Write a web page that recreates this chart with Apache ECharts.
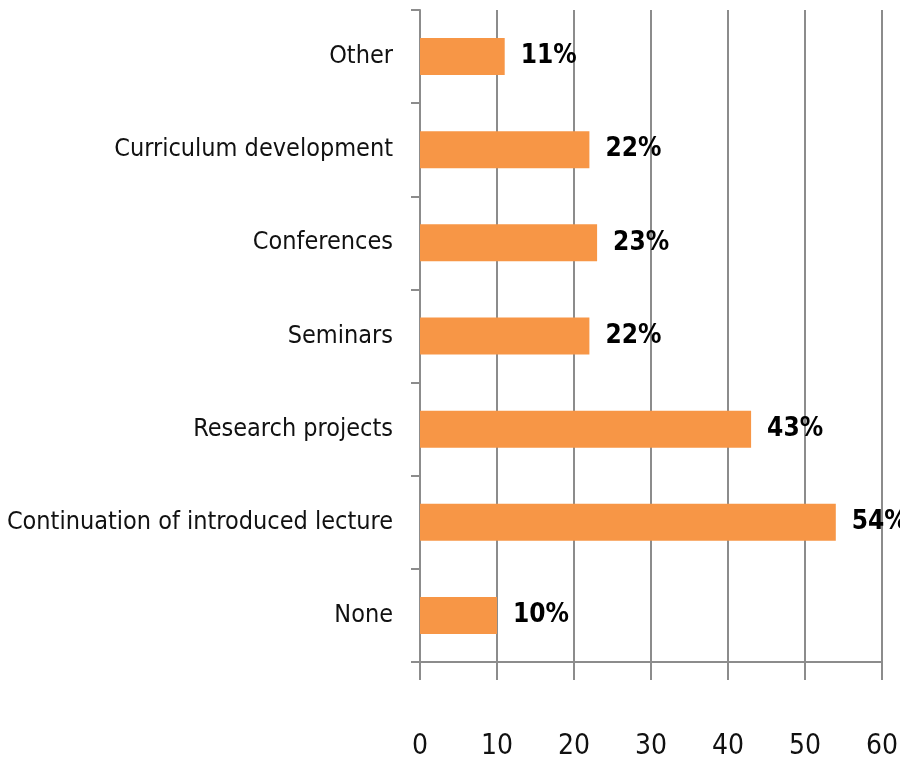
<!DOCTYPE html>
<html>
<head>
<meta charset="utf-8">
<script src="https://cdn.jsdelivr.net/npm/echarts@6/dist/echarts.min.js"></script>
<style>
  body { margin: 0; background: #fff; }
  #myChart { width: 900px; height: 765px; }
</style>
</head>
<body>
<div id="myChart"></div>
<script>
  // categories bottom to top, as ECharts draws a category y axis
  var categories = ['None', 'Continuation of introduced lecture', 'Research projects', 'Seminars', 'Conferences', 'Curriculum development', 'Other'];
  var percents = [10, 54, 43, 22, 23, 22, 11];
  var xTicks = [0, 10, 20, 30, 40, 50, 60];

  var font = "'Liberation Sans Narrow', 'DejaVu Sans Condensed', sans-serif";
  var myChart = echarts.init(document.getElementById('myChart'));
  myChart.setOption({
    animation: false,
    grid: {
      left: 420,
      right: 18,
      top: 10,
      bottom: 103,
      containLabel: false,
      outerBoundsMode: 'none'
    },
    xAxis: {
      type: 'value',
      min: xTicks[0],
      max: xTicks[xTicks.length - 1],
      interval: 10,
      axisLine: {
        show: true,
        lineStyle: { color: '#8c8c8c', width: 2 }
      },
      axisTick: {
        show: true,
        length: 18,
        lineStyle: { color: '#8c8c8c', width: 2 }
      },
      splitLine: {
        show: true,
        lineStyle: { color: '#8c8c8c', width: 2 }
      },
      axisLabel: {
        margin: 71,
        color: '#111',
        fontFamily: font,
        fontSize: 28
      }
    },
    yAxis: {
      type: 'category',
      data: categories,
      axisLine: {
        show: true,
        lineStyle: { color: '#8c8c8c', width: 2 }
      },
      axisTick: {
        show: true,
        length: 9,
        lineStyle: { color: '#8c8c8c', width: 2 }
      },
      axisLabel: {
        margin: 27,
        color: '#111',
        fontFamily: font,
        fontSize: 25
      }
    },
    series: [
      {
        type: 'bar',
        data: percents,
        barWidth: 37,
        itemStyle: { color: '#f79646' },
        label: {
          show: true,
          position: 'right',
          distance: 16,
          formatter: '{c}%',
          color: '#000',
          fontWeight: 'bold',
          fontFamily: font,
          fontSize: 26
        }
      }
    ]
  });
</script>
</body>
</html>
